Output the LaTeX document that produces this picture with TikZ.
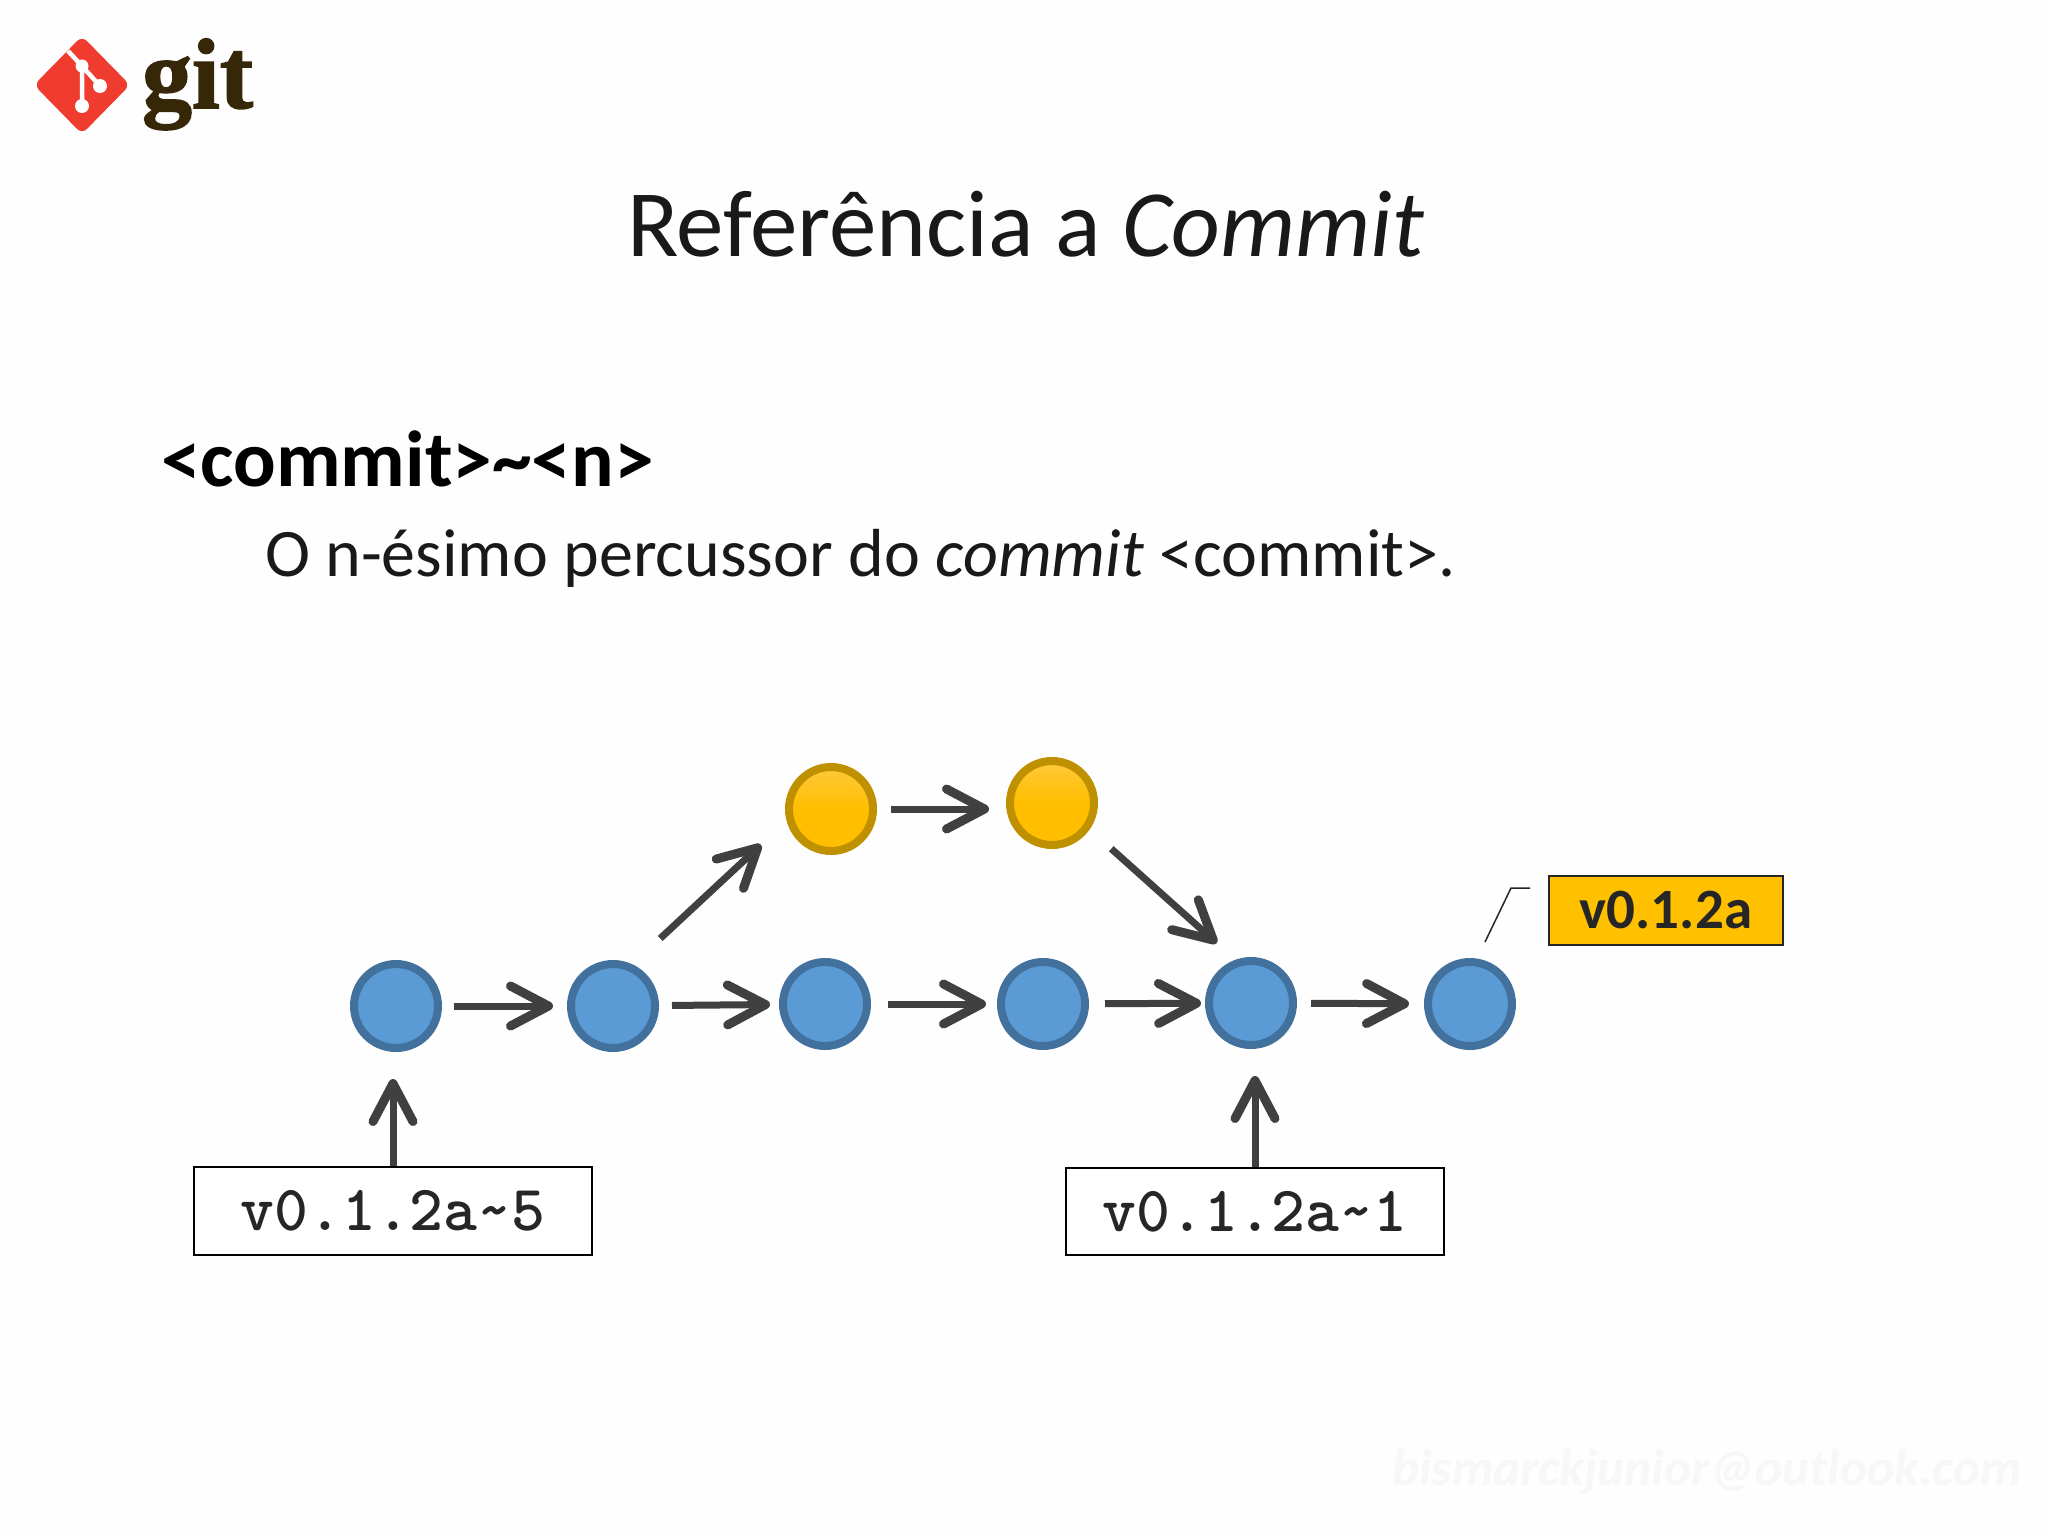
\documentclass[tikz,border=0pt]{standalone}
\usepackage{fontspec}
\setmainfont{Carlito}
\newfontfamily\gitf{Liberation Serif}[BoldFeatures={FakeBold=1.5}]
\usetikzlibrary{arrows.meta,calc}
\definecolor{arrowc}{HTML}{404040}
\definecolor{bluef}{HTML}{5B9BD5}
\definecolor{blued}{HTML}{41719C}
\definecolor{yelt}{HTML}{FFC83A}
\definecolor{yelb}{HTML}{FFBF00}
\definecolor{yeld}{HTML}{BF9000}
\definecolor{tagc}{HTML}{FFC000}
\definecolor{gitred}{HTML}{F03C2E}
\definecolor{gitbrown}{HTML}{362709}
\definecolor{wm}{HTML}{F8F7F8}
\newcommand{\fsz}[1]{\fontsize{#1}{#1}\selectfont}
\tikzset{
  x=1pt,y=-1pt,
  bluec/.style={circle,draw=blued,fill=bluef,line width=8pt,minimum size=84pt,inner sep=0pt},
  yelc/.style={circle,draw=yeld,top color=yelt,bottom color=yelb,middle color=yelb,line width=8pt,minimum size=84pt,inner sep=0pt},
  conn/.style={draw=arrowc,line width=7pt,-{Straight Barb[length=38pt,width=40pt,line width=9pt,round]}},
  refbox/.style={draw=black,line width=2pt,fill=white,inner sep=0pt,font=\ttfamily\bfseries\fsz{64.5},text=black!85},
  txt/.style={anchor=base west,inner sep=0pt,outer sep=0pt},
}
\begin{document}
\begin{tikzpicture}
\useasboundingbox (0,0) rectangle (2048,1536);
\fill[white!99.6!black] (0,0) rectangle (2048,1536);
% logo
\fill[gitred,rounded corners=7pt] (82,36) -- (130,85) -- (82,134) -- (34,85) -- cycle;
\draw[white,line width=4.5pt] (68,51) -- (82,66) -- (82,106) (82,66) -- (100,86);
\fill[white] (82,66) circle (6.5pt) (100,86) circle (7pt) (82,106) circle (7pt);
\node[txt,font=\gitf\bfseries\fsz{100},text=gitbrown] (gitword) at (142,108) {git};
% text
\node[txt,font=\fsz{95},text=black!90] (title) at (627,256) {Referência a \textit{Commit}};
\node[txt,font=\bfseries\fsz{79.5},text=black] (cmd) at (161,486) {<commit>\textasciitilde<n>};
\node[txt,font=\fsz{68},text=black!90] (desc) at (265,576) {O n-ésimo percussor do \textit{commit} <commit>.};
\node[txt,font=\bfseries\itshape\fsz{51.4},text=wm] (mark) at (1392,1485) {bismarckjunior@outlook.com};
% commits
\node[bluec] (b1) at (396,1006) {};
\node[bluec] (b2) at (613,1006) {};
\node[bluec] (b3) at (825,1004) {};
\node[bluec] (b4) at (1043,1004) {};
\node[bluec] (b5) at (1251,1003) {};
\node[bluec] (b6) at (1470,1004) {};
\node[yelc] (y1) at (831,809) {};
\node[yelc] (y2) at (1052,803) {};
% labels
\node[refbox,minimum width=398pt,minimum height=88pt] (r1) at (393,1211) {v0.1.2a\textasciitilde5};
\node[refbox,minimum width=378pt,minimum height=87pt] (r2) at (1255,1211.5) {v0.1.2a\textasciitilde1};
\node[draw=black!85,line width=2pt,fill=tagc,minimum width=234pt,minimum height=69pt,inner sep=0pt,font=\bfseries\fsz{57},text=black!85] (tag) at (1666,910.5) {v0.1.2a};
\coordinate (ca) at (1485,942);
\coordinate (cb) at (1511,888);
\coordinate (cc) at (1530,888);
\draw[black!85,line width=1.5pt] (ca) -- (cb) -- (cc);
% connectors
\draw[conn,shorten <=12pt,shorten >=14pt] (b1) -- (b2);
\draw[conn,shorten <=13pt,shorten >=9pt] (b2) -- (b3);
\draw[conn,shorten <=17pt,shorten >=11pt] (b3) -- (b4);
\draw[conn,shorten <=16pt,shorten >=4pt] (b4) -- (b5);
\draw[conn,shorten <=14pt,shorten >=15pt] (b5) -- (b6);
\draw[conn,shorten <=14pt,shorten >=17pt] (y1.east) -- (y1.east -| y2.west);
\draw[conn,shorten <=38pt,shorten >=35pt] (b2.65) -- (y1.195);
\draw[conn,shorten <=29pt,shorten >=25pt] (y2.-35) -- (b5.110);
\draw[conn,shorten >=27pt] (r1.north) -- (r1.north |- b1.south);
\draw[conn,shorten >=27pt] (r2.north) -- (r2.north |- b5.south);
\end{tikzpicture}
\end{document}
